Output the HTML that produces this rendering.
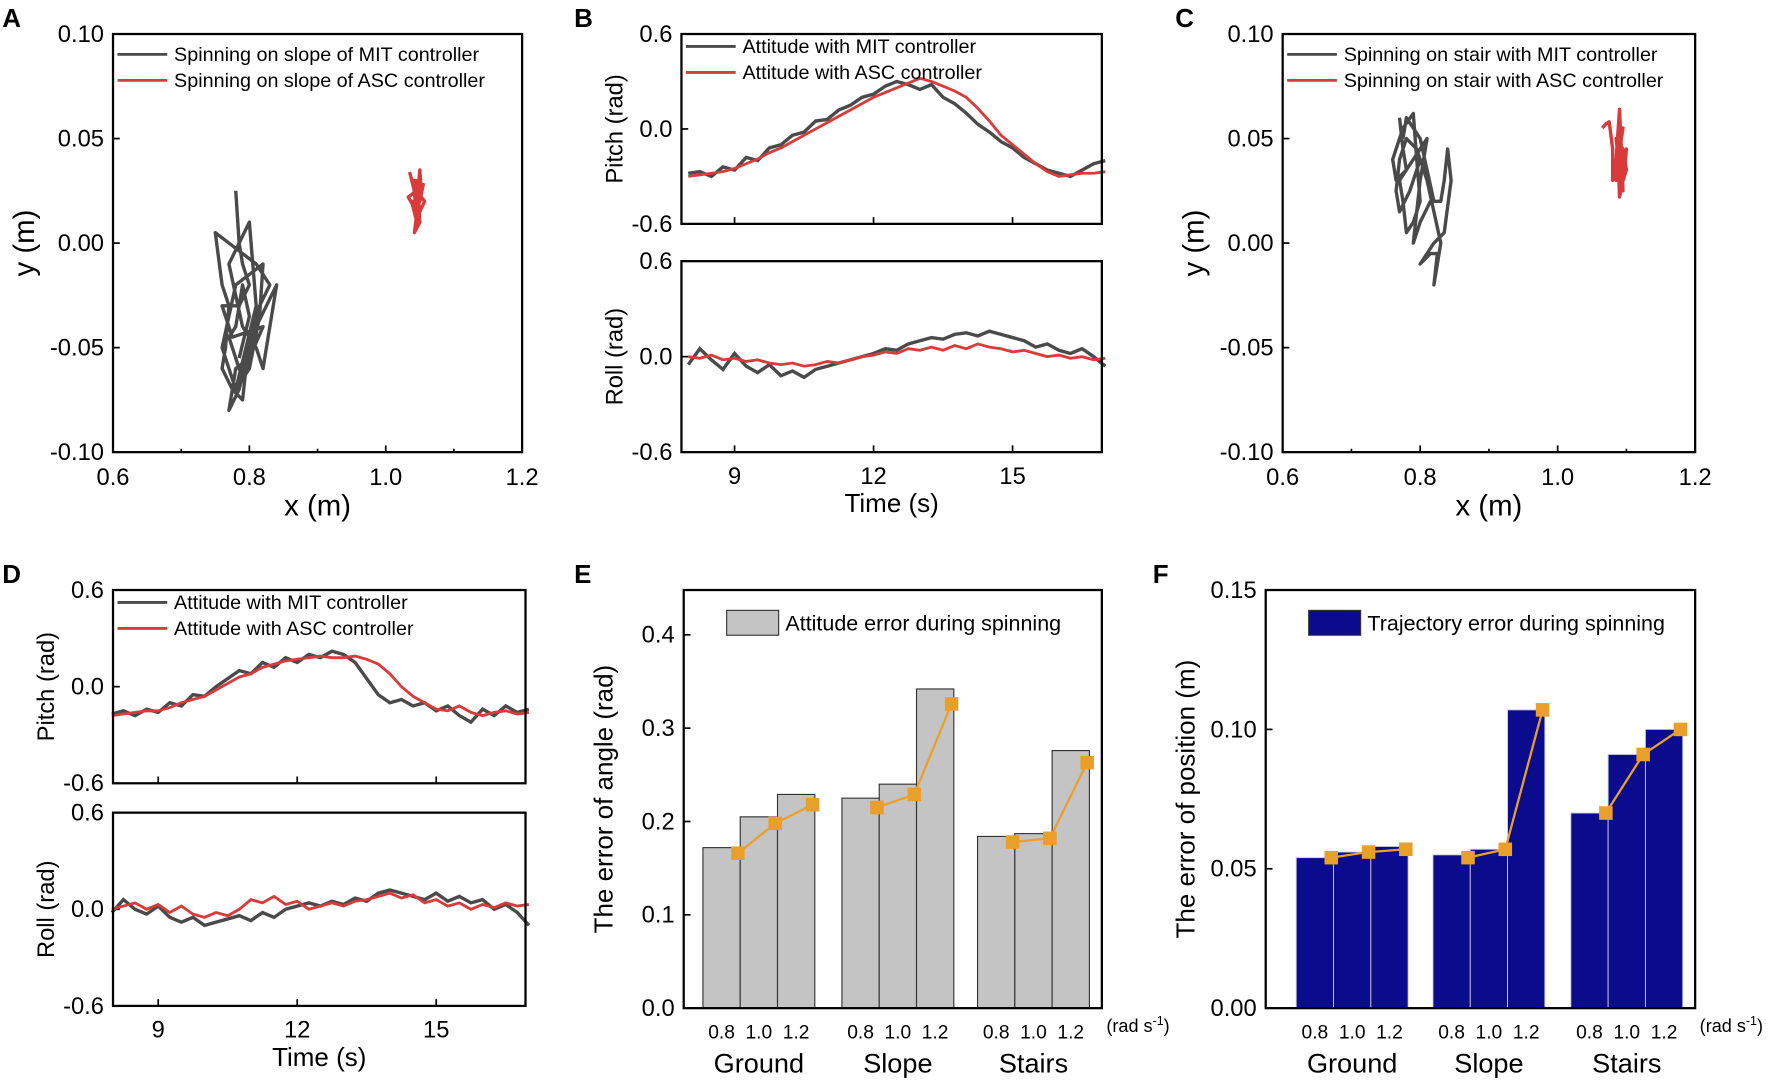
<!DOCTYPE html>
<html><head><meta charset="utf-8"><style>
html,body{margin:0;padding:0;background:#fff;}
svg{display:block;font-family:"Liberation Sans",Arial,sans-serif;}
</style></head><body>
<svg id="fig" width="1772" height="1084" viewBox="0 0 1568 959" xmlns="http://www.w3.org/2000/svg"></svg>
<script>
// ---------- DATA ----------
const timeStart = 8, timeStep = 0.25;
const bPitchMIT = [-0.28,-0.27,-0.3,-0.24,-0.26,-0.18,-0.2,-0.12,-0.1,-0.04,-0.02,0.05,0.06,0.12,0.15,0.2,0.22,0.27,0.3,0.28,0.25,0.28,0.2,0.16,0.1,0.03,-0.02,-0.08,-0.12,-0.18,-0.22,-0.26,-0.28,-0.3,-0.26,-0.22,-0.2];
const bPitchASC = [-0.3,-0.29,-0.28,-0.27,-0.25,-0.22,-0.19,-0.15,-0.12,-0.08,-0.04,0.0,0.04,0.08,0.12,0.16,0.2,0.23,0.26,0.29,0.32,0.3,0.27,0.24,0.2,0.13,0.05,-0.04,-0.1,-0.16,-0.22,-0.27,-0.3,-0.29,-0.28,-0.28,-0.27];
const bRollMIT = [-0.05,0.05,-0.02,-0.08,0.02,-0.06,-0.1,-0.05,-0.12,-0.09,-0.13,-0.08,-0.06,-0.04,-0.02,0.0,0.02,0.05,0.04,0.08,0.1,0.12,0.11,0.14,0.15,0.13,0.16,0.14,0.12,0.1,0.06,0.08,0.04,0.02,0.05,0.0,-0.06];
const bRollASC = [0.0,-0.01,0.01,-0.02,-0.01,-0.03,-0.02,-0.04,-0.05,-0.04,-0.06,-0.05,-0.03,-0.04,-0.02,0.0,0.01,0.03,0.02,0.05,0.04,0.06,0.04,0.07,0.05,0.08,0.06,0.05,0.03,0.04,0.02,0.0,0.01,-0.01,0.0,-0.02,-0.01];
const dPitchMIT = [-0.17,-0.15,-0.18,-0.14,-0.16,-0.1,-0.12,-0.05,-0.06,0.0,0.05,0.1,0.08,0.15,0.12,0.18,0.15,0.2,0.18,0.22,0.2,0.15,0.05,-0.05,-0.1,-0.08,-0.12,-0.1,-0.15,-0.12,-0.18,-0.22,-0.14,-0.18,-0.12,-0.16,-0.14];
const dPitchASC = [-0.18,-0.17,-0.16,-0.15,-0.15,-0.13,-0.1,-0.08,-0.06,-0.02,0.02,0.06,0.08,0.12,0.14,0.16,0.17,0.18,0.19,0.18,0.18,0.19,0.17,0.14,0.08,0.0,-0.06,-0.1,-0.14,-0.15,-0.12,-0.16,-0.18,-0.16,-0.15,-0.17,-0.16];
const dRollMIT = [-0.02,0.06,0.0,-0.03,0.02,-0.05,-0.08,-0.05,-0.1,-0.08,-0.06,-0.04,-0.07,-0.02,-0.05,0.0,0.02,0.04,0.02,0.05,0.03,0.07,0.05,0.1,0.12,0.1,0.08,0.06,0.1,0.05,0.08,0.04,0.06,0.0,0.03,-0.02,-0.1];
const dRollASC = [0.0,0.02,0.04,0.0,0.03,-0.02,0.02,-0.03,-0.05,-0.02,-0.04,0.0,0.06,0.04,0.08,0.03,0.05,0.0,0.02,0.04,0.02,0.05,0.06,0.08,0.1,0.07,0.09,0.04,0.06,0.02,0.04,0.0,0.03,0.01,0.04,0.02,0.03];
const aTrajMIT = [[0.78,0.025],[0.785,0.0],[0.79,-0.01],[0.80,-0.02],[0.785,-0.03],[0.76,-0.03],[0.775,-0.045],[0.82,-0.04],[0.80,-0.055],[0.78,-0.06],[0.77,-0.08],[0.785,-0.07],[0.80,-0.05],[0.815,-0.03],[0.83,-0.02],[0.81,-0.01],[0.79,-0.005],[0.77,0.0],[0.75,0.005],[0.76,-0.02],[0.77,-0.03],[0.765,-0.05],[0.76,-0.06],[0.775,-0.07],[0.79,-0.075],[0.795,-0.06],[0.81,-0.04],[0.825,-0.03],[0.84,-0.02],[0.83,-0.04],[0.82,-0.06],[0.81,-0.05],[0.79,-0.04],[0.78,-0.025],[0.77,-0.01],[0.785,0.0],[0.80,0.01],[0.805,-0.01],[0.81,-0.03],[0.795,-0.05],[0.78,-0.07],[0.77,-0.06],[0.76,-0.05],[0.77,-0.035],[0.78,-0.02],[0.80,-0.015],[0.82,-0.01],[0.815,-0.035],[0.80,-0.06],[0.79,-0.065],[0.77,-0.045],[0.78,-0.04],[0.79,-0.02],[0.80,-0.035],[0.785,-0.055]];
const aTrajASC = [[1.035,0.034],[1.042,0.025],[1.045,0.015],[1.04,0.03],[1.048,0.022],[1.05,0.01],[1.042,0.005],[1.046,0.015],[1.055,0.028],[1.05,0.02],[1.038,0.02],[1.044,0.012],[1.05,0.035],[1.052,0.025],[1.045,0.012],[1.04,0.018],[1.033,0.022],[1.045,0.025],[1.057,0.02],[1.05,0.015],[1.044,0.03],[1.046,0.018],[1.048,0.008]];
const cTrajMIT = [[0.77,0.06],[0.775,0.045],[0.78,0.035],[0.765,0.03],[0.76,0.04],[0.775,0.055],[0.79,0.062],[0.795,0.04],[0.80,0.02],[0.79,0.01],[0.78,0.005],[0.775,0.02],[0.77,0.03],[0.79,0.04],[0.81,0.05],[0.80,0.03],[0.79,0.0],[0.80,0.01],[0.815,0.02],[0.83,0.02],[0.835,0.03],[0.84,0.045],[0.845,0.03],[0.835,0.005],[0.82,0.0],[0.80,-0.01],[0.815,-0.005],[0.825,-0.005],[0.82,-0.02],[0.83,0.0],[0.82,0.015],[0.81,0.03],[0.795,0.045],[0.78,0.05],[0.77,0.04],[0.765,0.025],[0.77,0.015],[0.785,0.025],[0.80,0.04],[0.81,0.035],[0.82,0.02],[0.80,0.05],[0.79,0.055],[0.78,0.06],[0.775,0.05]];
const cTrajASC = [[1.065,0.055],[1.07,0.057],[1.075,0.058],[1.08,0.045],[1.08,0.03],[1.085,0.04],[1.09,0.064],[1.092,0.05],[1.095,0.025],[1.09,0.035],[1.085,0.05],[1.095,0.045],[1.1,0.035],[1.095,0.03],[1.09,0.022],[1.088,0.04],[1.095,0.055],[1.09,0.045],[1.085,0.03],[1.092,0.038],[1.1,0.045],[1.096,0.03]];
const groups = ["Ground","Slope","Stairs"];
const speeds = ["0.8","1.0","1.2"];
const eBars = [0.172,0.205,0.229,0.225,0.240,0.342,0.184,0.187,0.276];
const eLine = [0.166,0.198,0.218,0.215,0.229,0.326,0.178,0.182,0.263];
const fBars = [0.054,0.056,0.058,0.055,0.057,0.107,0.070,0.091,0.100];
const fLine = [0.054,0.056,0.057,0.054,0.057,0.107,0.070,0.091,0.100];
const xyTicks = [0.6,0.8,1.0,1.2];
const xyYTicks = ["0.10","0.05","0.00","-0.05","-0.10"];
const attTicks = ["0.6","0.0","-0.6"];
const timeTicks = [9,12,15];
const eTicks = ["0.0","0.1","0.2","0.3","0.4"];
const fTicks = ["0.00","0.05","0.10","0.15"];

// ---------- HELPERS ----------
const svg = document.getElementById('fig');
const NS = 'http://www.w3.org/2000/svg';
function el(tag, attrs, parent){const e=document.createElementNS(NS,tag);for(const k in attrs)e.setAttribute(k,attrs[k]);(parent||svg).appendChild(e);return e;}
function txt(s,x,y,size,anchor,parent,extra){const t=el('text',Object.assign({x:x,y:y,'font-size':size,'text-anchor':anchor||'middle',fill:'#000'},extra||{}),parent);t.textContent=s;return t;}
function lin(d0,d1,r0,r1){return v=>r0+(v-d0)/(d1-d0)*(r1-r0);}
const GRAY='#4a4a4a', RED='#d93b3b', ORANGE='#e8a02a', NAVY='#0b0b8e';
const TICK=21;

function frame(name,x0,y0,x1,y1){const r=el('rect',{x:x0,y:y0,width:x1-x0,height:y1-y0,fill:'none',stroke:'#000','stroke-width':2});}
function panelLetter(s,x,y){const t=txt(s,x,y,23,'start',null,{'font-weight':'bold'});}
function legendLine(x,y,color,label,name){const g=el('g',{});el('line',{x1:x,y1:y,x2:x+44,y2:y,stroke:color,'stroke-width':2.5},g);txt(label,x+50,y+6,17.5,'start',g);}

// ---------- XY PANELS ----------
function xyPanel(id,x0,x1,y0,y1,mit,asc,leg1,leg2){
  const sx=lin(0.6,1.2,x0,x1), sy=lin(0.10,-0.10,y0,y1);
  const g=el('g',{});
  frame('plot-frame-'+id,x0,y0,x1,y1);
  xyTicks.forEach(v=>{el('line',{x1:sx(v),y1:y1,x2:sx(v),y2:y1-6,stroke:'#000','stroke-width':1.5},g);const t=txt(v.toFixed(1),sx(v),y1+29,TICK,'middle',g);});
  [0.7,0.9,1.1].forEach(v=>el('line',{x1:sx(v),y1:y1,x2:sx(v),y2:y1-3,stroke:'#000','stroke-width':1.5},g));
  xyYTicks.forEach(s=>{const v=parseFloat(s);el('line',{x1:x0,y1:sy(v),x2:x0+6,y2:sy(v),stroke:'#000','stroke-width':1.5},g);const t=txt(s,x0-8,sy(v)+7,TICK,'end',g);});
  const xt=txt('x (m)',(x0+x1)/2,y1+56,26,'middle',g);
  const yt=txt('y (m)',0,0,26,'middle',g,{transform:`translate(${x0-70},${(y0+y1)/2}) rotate(-90)`});
  const pm=el('polyline',{points:mit.map(p=>sx(p[0])+','+sy(p[1])).join(' '),fill:'none',stroke:GRAY,'stroke-width':3,'stroke-linejoin':'round'},g);
  
  const pa=el('polyline',{points:asc.map(p=>sx(p[0])+','+sy(p[1])).join(' '),fill:'none',stroke:RED,'stroke-width':3,'stroke-linejoin':'round'},g);
  
  legendLine(x0+4,y0+18,GRAY,leg1,'legend-entry-mit');
  legendLine(x0+4,y0+41,RED,leg2,'legend-entry-asc');
}
xyPanel('a',100,462,30,400,aTrajMIT,aTrajASC,'Spinning on slope of MIT controller','Spinning on slope of ASC controller');
xyPanel('c',1135,1500,30,400,cTrajMIT,cTrajASC,'Spinning on stair with MIT controller','Spinning on stair with ASC controller');
panelLetter('A',2,24);panelLetter('C',1040,24);

// ---------- ATTITUDE PANELS ----------
function attSub(id,x0,x1,y0,y1,mit,asc,ylabel,showX,sxFn){
  const sy=lin(0.6,-0.6,y0,y1);
  const g=el('g',{});
  frame('plot-frame-'+id,x0,y0,x1,y1);
  attTicks.forEach(s=>{const v=parseFloat(s);el('line',{x1:x0,y1:sy(v),x2:x0+6,y2:sy(v),stroke:'#000','stroke-width':1.5},g);const t=txt(s,x0-8,sy(v)+7,TICK,'end',g);});
  timeTicks.forEach(v=>{el('line',{x1:sxFn(v),y1:y1,x2:sxFn(v),y2:y1-6,stroke:'#000','stroke-width':1.5},g);if(showX){const t=txt(String(v),sxFn(v),y1+28,TICK,'middle',g);}});
  const yt=txt(ylabel,0,0,21,'middle',g,{transform:`translate(${x0-52},${(y0+y1)/2}) rotate(-90)`});
  const pts=a=>a.map((v,i)=>sxFn(timeStart+i*timeStep)+','+sy(v)).join(' ');
  const pm=el('polyline',{points:pts(mit),fill:'none',stroke:GRAY,'stroke-width':3},g);
  const pa=el('polyline',{points:pts(asc),fill:'none',stroke:RED,'stroke-width':2.5},g);
}
function attPanel(id,x0,x1,t0,t1,b0,b1,data,tick9){
  const sx=lin(9,12,tick9,tick9+123);
  attSub(id+'-pitch',x0,x1,t0,t1,data[0],data[1],'Pitch (rad)',false,sx);
  attSub(id+'-roll',x0,x1,b0,b1,data[2],data[3],'Roll (rad)',true,sx);
  const xt=txt('Time (s)',(x0+x1)/2,b1+53,23,'middle');
  legendLine(x0+4,t0+11,GRAY,'Attitude with MIT controller','legend-entry-mit');
  legendLine(x0+4,t0+34,RED,'Attitude with ASC controller','legend-entry-asc');
}
attPanel('b',603,975,30,198,231,400,[bPitchMIT,bPitchASC,bRollMIT,bRollASC],650);
attPanel('d',100,465,522,693,719,890,[dPitchMIT,dPitchASC,dRollMIT,dRollASC],140);
panelLetter('B',508,24);panelLetter('D',2,516);

// ---------- BAR PANELS ----------
function barPanel(id,x0,x1,y0,y1,ymax,ticks,bars,line,color,ylabel,legend,barStarts,barW){
  const sy=lin(0,ymax,y1,y0);
  const g=el('g',{});
  frame('plot-frame-'+id,x0,y0,x1,y1);
  ticks.forEach(s=>{const v=parseFloat(s);el('line',{x1:x0,y1:sy(v),x2:x0+6,y2:sy(v),stroke:'#000','stroke-width':1.5},g);const t=txt(s,x0-8,sy(v)+7,TICK,'end',g);});
  const yt=txt(ylabel,0,0,23,'middle',g,{transform:`translate(${x0-63},${(y0+y1)/2}) rotate(-90)`});
  bars.forEach((v,i)=>{const gi=Math.floor(i/3),k=i%3;const bx=barStarts[gi]+k*barW;
    const r=el('rect',{x:bx,y:sy(v),width:barW,height:y1-sy(v),fill:color,stroke:color==NAVY?'#c8c8e0':'#333','stroke-width':color==NAVY?0.8:1},g);
    });
  const pts=line.map((v,i)=>{const gi=Math.floor(i/3),k=i%3;return [barStarts[gi]+barW*(k+1)-2,sy(v)];});
  for(let gi=0;gi<3;gi++){const p=pts.slice(gi*3,gi*3+3);const pl=el('polyline',{points:p.map(q=>q.join(',')).join(' '),fill:'none',stroke:ORANGE,'stroke-width':2},g);}
  pts.forEach(p=>{const m=el('rect',{x:p[0]-6,y:p[1]-6,width:12,height:12,fill:ORANGE},g);});
  groups.forEach((gname,gi)=>{speeds.forEach((s,k)=>{const t=txt(s,barStarts[gi]+barW*(k+0.5),y1+27,17,'middle',g);});
    const t=txt(gname,barStarts[gi]+barW*1.5,y1+57,24,'middle',g);});
  const u=el('text',{x:x1+4,y:y1+21,'font-size':16,'text-anchor':'start'},g);u.innerHTML='(rad s<tspan dy="-6" font-size="11">-1</tspan><tspan dy="6">)</tspan>';
  const lg=el('g',{},g);
  el('rect',{x:x0+38,y:y0+18,width:46,height:22,fill:color,stroke:'#333','stroke-width':1},lg);
  txt(legend,x0+90,y0+36,19,'start',lg);
}
barPanel('e',605,975,522,892,0.448,eTicks,eBars,eLine,'#c4c4c4','The error of angle (rad)','Attitude error during spinning',[622,745,865],33);
barPanel('f',1120,1500,522,892,0.15,fTicks,fBars,fLine,NAVY,'The error of position (m)','Trajectory error during spinning',[1147,1268,1390],33);
panelLetter('E',508,516);panelLetter('F',1020,516);
</script>
</body></html>
